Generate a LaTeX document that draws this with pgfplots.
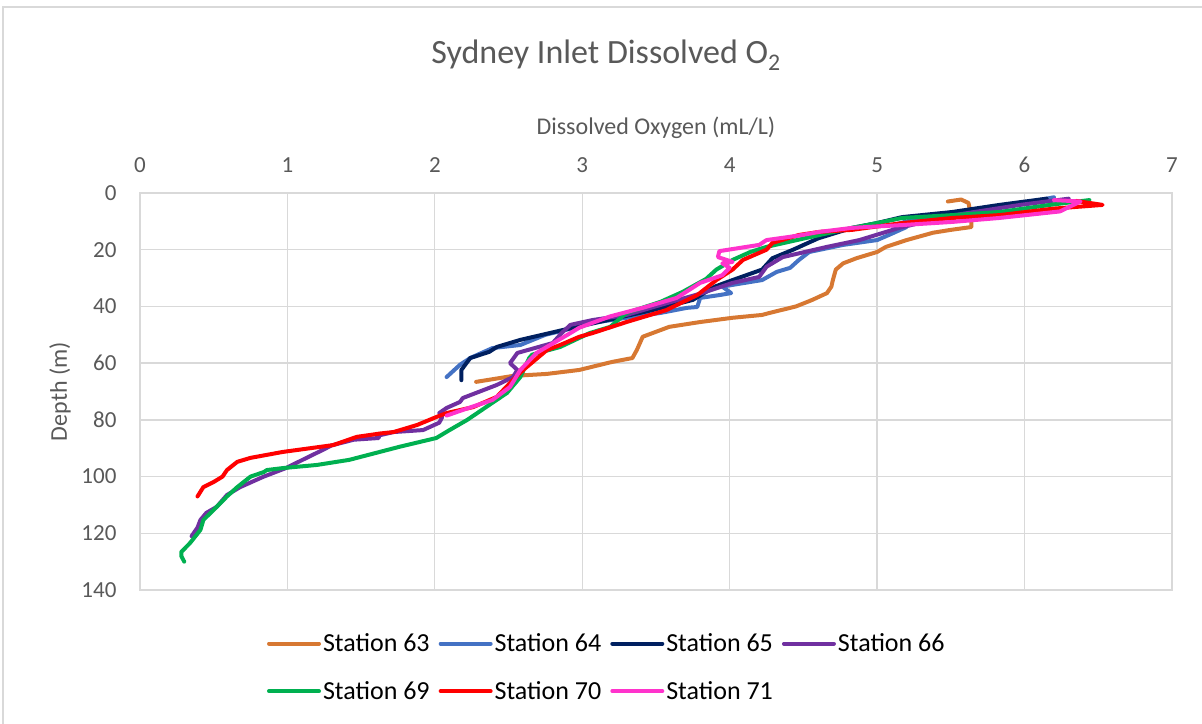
\documentclass[border=0pt]{standalone}
\usepackage{pgfplots}
\pgfplotsset{compat=1.18}
\usepackage{fontspec}
\setmainfont{Carlito}

\definecolor{c63}{RGB}{215,120,50}
\definecolor{c64}{RGB}{68,114,196}
\definecolor{c65}{RGB}{0,32,96}
\definecolor{c66}{RGB}{112,48,160}
\definecolor{c69}{RGB}{0,176,80}
\definecolor{c70}{RGB}{255,0,0}
\definecolor{c71}{RGB}{255,51,204}
\definecolor{txt}{RGB}{89,89,89}
\definecolor{gridc}{RGB}{217,217,217}

\begin{document}
\begin{tikzpicture}
\path[use as bounding box] (0,0) rectangle (1202pt,723pt);
\draw[gridc, line width=1.5pt] (3pt,-10pt) -- (3pt,716pt) -- (1215pt,716pt);
\node[txt, font=\fontsize{34}{40}\selectfont] at (606pt,668pt) {Sydney Inlet Dissolved O\textsubscript{2}};

\begin{axis}[
at={(140pt,133pt)}, anchor=south west,
scale only axis,
width=1032pt, height=397pt,
xmin=0, xmax=7, ymin=0, ymax=140,
y dir=reverse,
xtick={0,1,...,7}, ytick={0,20,...,140},
xticklabel pos=upper,
grid=major,
major grid style={draw=gridc, line width=1.3pt},
axis line style={draw=gridc, line width=1.3pt},
major tick length=0pt,
tick label style={txt, font=\fontsize{23}{26}\selectfont},
/pgf/number format/assume math mode=true,
xticklabel style={yshift=17pt},
yticklabel style={xshift=-20pt},
xlabel={Dissolved Oxygen (mL/L)},
ylabel={Depth (m)},
label style={txt, font=\fontsize{24}{28}\selectfont},
xlabel style={at={(axis description cs:0.5,1)}, anchor=center, yshift=65pt},
ylabel style={at={(axis description cs:0,0.5)}, anchor=center, yshift=80pt},
legend columns=4,
legend cell align=left,
legend style={draw=none, fill=none, font=\fontsize{26}{30}\selectfont,
  at={(axis description cs:0.12,-0.10)}, anchor=north west,
  /tikz/every even column/.append style={column sep=7pt},
  row sep=24pt},
legend image code/.code={\draw[#1] (0pt,0pt) -- (50pt,0pt);},
every axis plot/.append style={line width=4pt, line join=round, line cap=round},
]
\addplot[c63] coordinates {
(5.48,3.0)(5.57,2.3)(5.62,3.5)(5.64,8.5)(5.64,12)(5.5,13)(5.38,14)(5.2,16.6)(5.06,19)(5.0,20.8)
(4.86,23)(4.77,24.8)(4.72,27)(4.70,30.7)(4.69,33)(4.66,35.3)(4.56,37.7)(4.45,40)(4.27,42.3)(4.22,43)
(4.02,44)(3.8,45.5)(3.59,47.2)(3.41,50.7)(3.37,55.4)(3.34,58.2)(3.2,59.6)(2.98,62.4)(2.76,63.8)(2.53,64.5)(2.28,66.6)
};
\addlegendentry{Station 63}
\addplot[c64] coordinates {
(6.2,1.5)(6.0,3.5)(5.6,6.5)(5.2,10)(5.1,11.5)(5.2,12)(5.08,14.8)(5.0,16.6)(4.77,18.3)(4.54,20.8)
(4.47,23.6)(4.41,26.4)(4.32,27.8)(4.22,30.7)(4.02,32.4)(3.95,33)(4.01,35.3)(3.93,36)(3.8,37)(3.78,40.2)
(3.71,40.5)(3.53,42.3)(3.3,44)(3.07,45.8)(2.95,47.5)(2.75,50)(2.58,53.6)(2.39,54.7)(2.24,58.2)(2.17,60.6)(2.08,64.9)
};
\addlegendentry{Station 64}
\addplot[c65] coordinates {
(6.15,2.0)(5.83,4.2)(5.51,6.7)(5.17,8.5)(5.0,10.6)(4.83,12.3)(4.6,16)(4.43,20)(4.29,23)(4.22,27)
(4.02,30.7)(3.9,33)(3.75,37.7)(3.5,41)(3.2,44.5)(2.87,48.3)(2.58,51.8)(2.42,54.3)(2.37,56)(2.24,58.2)(2.18,62.4)(2.18,66)
};
\addlegendentry{Station 65}
\addplot[c66] coordinates {
(6.3,2)(5.97,4.2)(5.5,8)(5.15,12.3)(4.88,16.6)(4.66,19)(4.36,22.6)(4.25,26)(4.2,29.6)(4.02,31.7)
(3.8,35.5)(3.53,39.5)(3.3,43)(3.07,44.8)(2.92,46.5)(2.86,49.4)(2.8,52.9)(2.56,56.4)(2.51,60)(2.56,62.4)
(2.53,64.9)(2.42,67.7)(2.28,70.5)(2.19,72.3)(2.17,73.7)(2.08,75.8)(2.03,77.6)(2.05,79)(2.03,81)(1.92,83.6)
(1.72,84.3)(1.62,85.5)(1.62,86.4)(1.45,87)(1.3,89)(1.24,90.6)(1.13,93.4)(0.99,97)(0.84,100)(0.68,103.7)
(0.59,106.5)(0.52,110.7)(0.45,112.8)(0.41,115.3)(0.39,118)(0.35,121)
};
\addlegendentry{Station 66}
\addplot[c69] coordinates {
(6.44,2.5)(6.2,4)(5.83,6.7)(5.51,7.8)(5.17,8.8)(5.0,10.6)(4.83,12.3)(4.61,14.8)(4.25,19)(4.14,20.8)
(4.02,23.6)(3.91,27)(3.84,30.3)(3.68,34.9)(3.53,38.4)(3.3,42.3)(3.19,47.2)(3.05,49.4)(2.85,54.3)(2.66,57)
(2.64,58.2)(2.58,64.9)(2.49,70.5)(2.39,74)(2.22,80)(2.1,83.6)(2.01,86.4)(1.76,89.5)(1.42,94.1)(1.2,95.9)
(0.97,97)(0.86,97.7)(0.84,98.4)(0.75,100)(0.66,103.7)(0.59,107)(0.52,110.7)(0.43,115.3)(0.41,118.8)(0.34,123.4)
(0.28,126.6)(0.28,128)(0.3,130)
};
\addlegendentry{Station 69}
\addplot[c70] coordinates {
(6.35,2.8)(6.53,4.2)(6.2,5.5)(5.83,7.8)(5.51,8.8)(5.17,10.6)(4.83,13)(4.61,13.7)(4.47,14.8)(4.29,17.6)
(4.25,20)(4.09,23.6)(4.02,27)(3.91,30.7)(3.78,36)(3.57,41.3)(3.3,45.5)(3.2,47.2)(3.07,49.4)(2.98,50.7)
(2.85,53.6)(2.76,55.4)(2.6,62.4)(2.53,65.9)(2.42,71.9)(2.26,75.5)(2.08,77.6)(2.01,79)(1.88,81.8)(1.72,84.3)
(1.63,84.8)(1.47,86)(1.31,88.9)(0.97,91.3)(0.75,93.4)(0.66,94.8)(0.59,97.7)(0.56,100)(0.5,101.9)(0.43,103.7)(0.39,107)
};
\addlegendentry{Station 70}
\addplot[c71] coordinates {
(6.2,2.5)(6.38,3)(6.3,5)(6.24,6.5)(5.83,8.8)(5.51,10.2)(5.17,11.3)(4.83,12.3)(4.61,13.7)(4.47,15)
(4.25,16.6)(4.2,18.3)(3.93,20.5)(3.92,22.6)(4.02,24.3)(3.95,24.8)(4.0,26.4)(3.95,29)(3.8,31.7)(3.64,37)
(3.41,40.5)(3.19,43.5)(2.98,47.5)(2.9,50)(2.69,56.4)(2.58,62.4)(2.51,68.4)(2.39,73)(2.19,76.5)(2.08,78.5)
};
\addlegendentry{Station 71}
\end{axis}
\end{tikzpicture}
\end{document}
